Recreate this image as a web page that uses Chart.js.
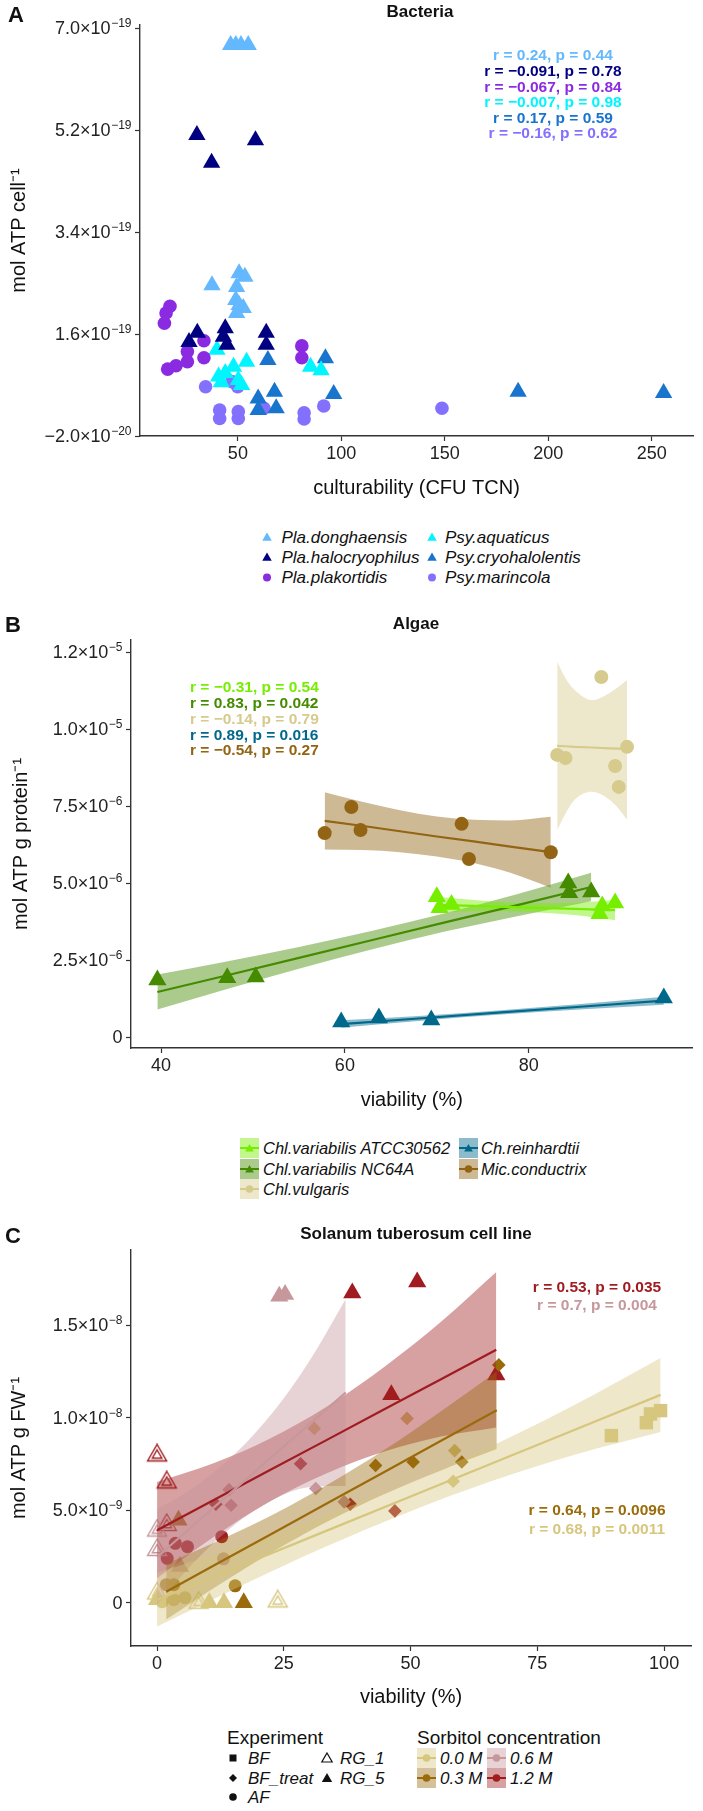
<!DOCTYPE html>
<html>
<head>
<meta charset="utf-8">
<script src="https://cdn.jsdelivr.net/npm/chart.js@4.4.1/dist/chart.umd.min.js"></script>
<style>
  body { margin: 0; background: #fff; width: 703px; height: 1811px; position: relative; overflow: hidden;
         font-family: "Liberation Sans", Arial, sans-serif; color: #111; }
  canvas { position: absolute; left: 0; }
  .t { position: absolute; white-space: nowrap; line-height: 1; }
  .c { transform: translate(-50%, -50%); }
  .l { transform: translate(0, -50%); }
  .r { transform: translate(-100%, -50%); }
  .stat { font-weight: bold; font-size: 15.5px; }
  .leg { font-style: italic; font-size: 17px; }
  .sup { font-size: 12px; position: relative; top: -7px; margin-left: 0.5px; }
  svg { position: absolute; }
</style>
</head>
<body>
<canvas id="chartA"></canvas>
<canvas id="chartB"></canvas>
<canvas id="chartC"></canvas>
<script>
const FONT = '"Liberation Sans", Arial, sans-serif';

// ---------- Panel A: Bacteria (y in 1e-19 mol ATP per cell) ----------
const plaDonghaensis = [[46.5,6.70],[49,6.70],[51.5,6.70],[55,6.70],[37.5,2.46],[50.6,2.67],[53.4,2.61],
  [49.4,2.43],[49,2.20],[50.6,2.11],[52.6,2.06],[49.4,1.97]];
const plaHalocryophilus = [[30.2,5.11],[58.5,5.02],[37.3,4.62],[26.4,1.46],[30.4,1.62],[43.9,1.70],[43,1.55],
  [44.7,1.41],[63.7,1.62],[63.7,1.41]];
const plaPlakortidis = [[17.2,2.09],[15.3,1.97],[14.5,1.79],[33.6,1.48],[25.6,1.29],[33.6,1.18],[16.1,0.98],
  [20.1,1.04],[25.6,1.11],[80.9,1.39],[80.9,1.18]];
const psyAquaticus = [[39.9,1.32],[40.7,0.85],[43.9,0.91],[47.9,1.02],[50.2,0.79],[54.2,1.11],[51.8,0.70],
  [85.1,1.02],[90.2,0.96],[42,0.75]];
const psyCryohalolentis = [[64.5,1.14],[92.3,1.17],[67.7,0.58],[59.8,0.46],[96.3,0.54],[59.8,0.26],[68.5,0.29],
  [185.4,0.58],[255.7,0.56]];
const psyMarincola = [[34.4,0.67],[47.1,0.76],[49.9,0.67],[62.6,0.29],[41.2,0.26],[41.2,0.11],[50.2,0.23],
  [50.2,0.11],[82,0.21],[82,0.10],[91.5,0.33],[148.6,0.29]];
const bacteriaNames = ['Pla.donghaensis','Pla.halocryophilus','Pla.plakortidis','Psy.aquaticus','Psy.cryohalolentis','Psy.marincola'];
const bacteriaColors = ['#63B8FF','#000080','#8A2BE2','#00F5FF','#1874CD','#8470FF'];
const bacteriaShapes = ['triangle','triangle','circle','triangle','triangle','circle'];
const bacteriaStats = ['r = 0.24, p = 0.44','r = −0.091, p = 0.78','r = −0.067, p = 0.84',
  'r = −0.007, p = 0.98','r = 0.17, p = 0.59','r = −0.16, p = 0.62'];
const xTicksA = [50,100,150,200,250];
const yTicksA = [-0.2,1.6,3.4,5.2,7.0];
const yTickLabelsA = ['−2.0×10^−20','1.6×10^−19','3.4×10^−19','5.2×10^−19','7.0×10^−19'];

// ---------- Panel B: Algae (y in 1e-6 mol ATP per g protein) ----------
const chlATCC = [[70,4.55],[70.3,4.2],[71.6,4.3],[87.7,4.0],[88,4.25],[89.4,4.35]];
const chlNC64A = [[39.6,1.85],[47.2,1.92],[50.3,1.95],[84.3,5.0],[84.4,4.68],[86.8,4.71]];
const chlVulgaris = [[87.9,11.69],[83.1,9.16],[84.0,9.06],[90.7,9.42],[89.4,8.8],[89.8,8.12]];
const chReinhardtii = [[59.6,0.49],[63.7,0.62],[69.4,0.55],[94.7,1.27]];
const micConductrix = [[57.8,6.62],[60.7,7.47],[61.7,6.72],[72.7,6.92],[73.5,5.78],[82.4,6.0]];
// fitted lines and confidence bands
const atccFitX = [70,75,80,85,89.4];
const atccFit = [4.29,4.25,4.20,4.16,4.12];
const atccHi = [4.55,4.42,4.34,4.36,4.45];
const atccLo = [4.03,4.08,4.06,3.96,3.79];
const nc64aFitX = [39.6,47,55,63,71,79,86.8];
const nc64aFit = [1.46,1.99,2.57,3.15,3.73,4.30,4.87];
const nc64aHi = [2.03,2.44,2.92,3.45,4.03,4.66,5.33];
const nc64aLo = [0.89,1.54,2.22,2.85,3.43,3.94,4.41];
const vulgarisFitX = [83.1,84.0,85.0,86.9,88.8,89.8,90.7];
const vulgarisFit = [9.45,9.44,9.42,9.40,9.37,9.36,9.35];
const vulgarisHi = [12.18,11.65,11.27,10.94,11.17,11.38,11.59];
const vulgarisLo = [6.72,7.25,7.70,7.96,7.70,7.40,7.05];
const reinhardtiiFitX = [59.6,68,77,86,94.7];
const reinhardtiiFit = [0.42,0.60,0.80,0.99,1.18];
const reinhardtiiHi = [0.54,0.68,0.87,1.08,1.31];
const reinhardtiiLo = [0.30,0.52,0.73,0.90,1.05];
const micFitX = [57.8,62,66,70,74,78,82.4];
const micFit = [7.02,6.85,6.68,6.51,6.35,6.18,6.00];
const micHi = [7.95,7.63,7.36,7.16,7.05,7.03,7.15];
const micLo = [6.09,6.07,6.00,5.86,5.65,5.33,4.85];
const algaeNames = ['Chl.variabilis ATCC30562','Chl.variabilis NC64A','Chl.vulgaris','Ch.reinhardtii','Mic.conductrix'];
const algaeColors = ['#76EE00','#458B00','#D6CB8C','#00688B','#936414'];
const algaeShapes = ['triangle','triangle','circle','triangle','circle'];
const algaeStats = ['r = −0.31, p = 0.54','r = 0.83, p = 0.042','r = −0.14, p = 0.79','r = 0.89, p = 0.016','r = −0.54, p = 0.27'];
const xTicksB = [40,60,80];
const yTicksB = [0,2.5,5,7.5,10,12.5];
const yTickLabelsB = ['0','2.5×10^−6','5.0×10^−6','7.5×10^−6','1.0×10^−5','1.2×10^−5'];

// ---------- Panel C: Solanum tuberosum (y in 1e-9 mol ATP per g FW) ----------
const m12RG5 = [[38.5,16.74],[51.3,17.33],[46.2,11.24],[66.9,12.31]];
const m12BFtreat = [[28.3,7.51],[38.1,5.32],[46.9,4.96],[11.6,5.32]];
const m12AF = [[3.6,3.21],[6.0,3.03],[2.0,2.40],[12.75,3.57]];
const m12RG1 = [[0,7.96],[1.9,6.5],[1.9,4.2]];
const m06RG5 = [[24.1,16.56],[25.25,16.65],[4.5,1.95]];
const m06BFtreat = [[31.3,6.17],[36.9,5.45],[14.2,6.11],[14.6,5.27]];
const m06AF = [[13.1,2.37]];
const m06RG1 = [[0,3.9],[0,2.85]];
const m03RG5 = [[4.23,4.46],[17.1,0]];
const m03BFtreat = [[43.1,7.42],[50.5,7.60],[60.1,7.60],[67.4,12.85]];
const m03AF = [[1.8,0.97],[3.3,0.97],[15.4,0.91]];
const m00BF = [[89.6,9.03],[96.5,9.73],[97.3,10.2],[99.3,10.38]];
const m00BFtreat = [[31.0,9.42],[49.3,9.96],[58.7,8.22],[58.4,6.56]];
const m00AF = [[3.3,0.16],[5.5,0.27],[1.0,0.05]];
const m00RG5 = [[0,0.16],[10.3,0],[13.2,0]];
const m00RG1 = [[8.2,0],[23.8,0.07],[0,0.5]];
const m12FitX = [0,11,22,33.5,45,56,66.9];
const m12Fit = [3.92,5.52,7.13,8.80,10.48,12.08,13.67];
const m12Hi = [6.52,7.52,8.83,10.60,12.78,15.18,17.87];
const m12Lo = [1.32,3.52,5.43,7.00,8.18,8.98,9.47];
const m06FitX = [0,6,12,18,25,31,37.2];
const m06Fit = [2.47,3.90,5.34,6.77,8.45,9.88,11.36];
const m06Hi = [5.07,6.00,7.24,8.77,11.05,13.48,16.41];
const m06Lo = [-0.13,1.80,3.44,4.77,5.85,6.28,6.31];
const m03FitX = [1.8,12,23,34,45,56,67];
const m03Fit = [0.59,2.13,3.78,5.44,7.09,8.75,10.40];
const m03Hi = [2.09,3.33,4.78,6.44,8.29,10.35,12.50];
const m03Lo = [-0.91,0.93,2.78,4.44,5.89,7.15,8.30];
const m00FitX = [0,16.5,33,50,66,82.5,99.3];
const m00Fit = [0.16,2.0,3.84,5.74,7.52,9.36,11.23];
const m00Hi = [1.61,3.10,4.69,6.54,8.47,10.71,13.23];
const m00Lo = [-1.29,0.90,2.99,4.94,6.57,8.01,9.23];
const sorbitolNames = ['0.0 M','0.3 M','0.6 M','1.2 M'];
const sorbitolColors = ['#D6C67E','#9B6B0B','#C6979B','#A01C20'];
const experimentNames = ['BF','BF_treat','AF','RG_1','RG_5'];
const experimentShapes = ['rect','rectRot','circle','open','triangle'];
const solanumStats = ['r = 0.53, p = 0.035','r = 0.7, p = 0.004','r = 0.64, p = 0.0096','r = 0.68, p = 0.0011'];
const solanumStatColors = ['#A01C20','#C6979B','#9B6B0B','#D6C67E'];
const xTicksC = [0,25,50,75,100];
const yTicksC = [0,5,10,15];
const yTickLabelsC = ['0','5.0×10^−9','1.0×10^−8','1.5×10^−8'];

// ---------- helpers ----------
function rgba(hex, a) {
  const n = parseInt(hex.slice(1), 16);
  return `rgba(${n >> 16},${(n >> 8) & 255},${n & 255},${a})`;
}
function pts(arr) { return arr.map(p => ({ x: p[0], y: p[1] })); }
function xy(xs, ys) { return xs.map((x, i) => ({ x: x, y: ys[i] })); }

const openTriCache = {};
function openTriangle(color) {
  if (openTriCache[color]) return openTriCache[color];
  const c = document.createElement('canvas');
  c.width = 24; c.height = 24;
  const g = c.getContext('2d');
  g.strokeStyle = color; g.lineWidth = 1.4;
  [11, 5.5].forEach(r => {
    g.beginPath();
    g.moveTo(12, 12 - r);
    g.lineTo(12 + r * 0.866, 12 + r / 2);
    g.lineTo(12 - r * 0.866, 12 + r / 2);
    g.closePath();
    g.stroke();
  });
  openTriCache[color] = c;
  return c;
}

function pointSet(arr, color, shape, radius, order) {
  return {
    type: 'scatter', data: pts(arr), order: order,
    pointStyle: shape === 'open' ? openTriangle(color) : shape,
    pointRadius: radius, backgroundColor: color, borderColor: color, borderWidth: 0
  };
}
function fitLine(xs, ys, color, order) {
  return { type: 'line', data: xy(xs, ys), showLine: true, borderColor: color, borderWidth: 2.2,
    pointRadius: 0, fill: false, tension: 0, order: order };
}
function band(xs, lo, hi, color, alpha, order) {
  return [
    { type: 'line', data: xy(xs, lo), showLine: true, borderColor: 'rgba(0,0,0,0)', borderWidth: 0.01,
      pointRadius: 0, fill: false, cubicInterpolationMode: 'monotone', order: order },
    { type: 'line', data: xy(xs, hi), showLine: true, borderColor: 'rgba(0,0,0,0)', borderWidth: 0.01,
      pointRadius: 0, fill: '-1', backgroundColor: rgba(color, alpha), cubicInterpolationMode: 'monotone', order: order }
  ];
}

function addText(txt, x, y, cls, style) {
  const d = document.createElement('div');
  d.className = 't ' + cls;
  d.textContent = txt;
  d.style.left = x + 'px'; d.style.top = y + 'px';
  Object.assign(d.style, style || {});
  document.body.appendChild(d);
  return d;
}

function makePanel(id, o) {
  const H = o.xTitleY + 16 - o.canvasTop;
  const cv = document.getElementById(id);
  cv.width = 703; cv.height = H;
  cv.style.top = o.canvasTop + 'px';
  cv.style.width = '703px'; cv.style.height = H + 'px';
  const tickFont = { size: 18, family: FONT };
  const titleFont = { size: 20, family: FONT };
  const grid = { display: true, drawOnChartArea: false, drawTicks: true, tickLength: 5, tickColor: '#333', tickWidth: 1.2 };
  const border = { display: true, color: '#333', width: 1.4 };
  const chart = new Chart(cv, {
    type: 'scatter',
    data: { datasets: o.datasets },
    options: {
      responsive: false, animation: false, devicePixelRatio: 1, events: [],
      layout: { padding: { top: o.plotTop - o.canvasTop, right: 703 - o.plotRight, left: 0, bottom: 0 } },
      plugins: { legend: { display: false }, tooltip: { enabled: false } },
      scales: {
        x: {
          type: 'linear', min: o.xMin, max: o.xMax,
          afterBuildTicks: s => { s.ticks = o.xTicks.map(v => ({ value: v })); },
          afterFit: s => { s.height = H - (o.plotBottom - o.canvasTop); },
          ticks: { font: tickFont, color: '#222', padding: 2, maxRotation: 0, autoSkip: false,
                   callback: (v, i) => String(o.xTicks[i]) },
          grid: grid, border: border,
          title: { display: true, text: o.xTitle, font: titleFont, color: '#111', padding: { top: 0, bottom: 4 } }
        },
        y: {
          type: 'linear', min: o.yMin, max: o.yMax,
          afterBuildTicks: s => { s.ticks = o.yTicks.map(v => ({ value: v })); },
          afterFit: s => { s.width = o.plotLeft; },
          // labels are written as HTML below so the powers of ten get real superscripts
          ticks: { font: tickFont, color: '#222', padding: 3, autoSkip: false, callback: () => '' },
          grid: grid, border: border,
          title: { display: true, text: o.yTitle, font: titleFont, color: '#111', padding: { top: o.yTitlePad, bottom: 0 } }
        }
      }
    }
  });
  // y tick labels placed at the library's own tick pixels
  const ys = chart.scales.y;
  o.yTicks.forEach((v, i) => {
    const parts = o.yTickLabels[i].split('^');
    const d = addText(parts[0], o.plotLeft - 8.5, o.canvasTop + ys.getPixelForValue(v), 'r',
      { fontSize: '18px', color: '#222' });
    if (parts[1]) {
      const s = document.createElement('span');
      s.className = 'sup';
      s.textContent = parts[1];
      d.appendChild(s);
    }
  });
  return chart;
}

function shapeSvg(shape, color, cx, cy, r) {
  if (shape === 'triangle') {
    return `<polygon points="${cx},${cy - r} ${cx + r * 0.866},${cy + r / 2} ${cx - r * 0.866},${cy + r / 2}" fill="${color}"/>`;
  }
  if (shape === 'open') {
    return `<polygon points="${cx},${cy - r} ${cx + r * 0.866},${cy + r / 2} ${cx - r * 0.866},${cy + r / 2}" fill="none" stroke="${color}" stroke-width="1.2"/>`;
  }
  if (shape === 'rect') return `<rect x="${cx - r * 0.7}" y="${cy - r * 0.7}" width="${r * 1.4}" height="${r * 1.4}" fill="${color}"/>`;
  if (shape === 'rectRot') return `<polygon points="${cx},${cy - r} ${cx + r},${cy} ${cx},${cy + r} ${cx - r},${cy}" fill="${color}"/>`;
  return `<circle cx="${cx}" cy="${cy}" r="${r}" fill="${color}"/>`;
}
function addSvg(x, y, w, h, inner) {
  const s = document.createElementNS('http://www.w3.org/2000/svg', 'svg');
  s.setAttribute('width', w); s.setAttribute('height', h);
  s.style.left = x + 'px'; s.style.top = y + 'px';
  s.innerHTML = inner;
  document.body.appendChild(s);
}

// ---------- Panel A ----------
const bacteriaData = [plaDonghaensis, plaHalocryophilus, plaPlakortidis, psyAquaticus, psyCryohalolentis, psyMarincola];
makePanel('chartA', {
  canvasTop: 0, plotTop: 25, plotBottom: 436, plotLeft: 140, plotRight: 701, xTitleY: 488,
  xMin: 2.71, xMax: 269.9, yMin: -0.2, yMax: 7.053,
  xTicks: xTicksA, yTicks: yTicksA, yTickLabels: yTickLabelsA, yTitlePad: 7,
  xTitle: 'culturability (CFU TCN)', yTitle: 'mol ATP cell⁻¹',
  datasets: bacteriaData.map((d, i) => pointSet(d, bacteriaColors[i], bacteriaShapes[i],
    bacteriaShapes[i] === 'triangle' ? 10 : 6.8, 1))
});
addText('A', 16, 15, 'c', { font: 'bold 22px ' + FONT });
addText('Bacteria', 420, 12, 'c', { font: 'bold 17px ' + FONT });
bacteriaStats.forEach((s, i) => addText(s, 553, [55, 71, 87, 102, 118, 133][i], 'c stat', { color: bacteriaColors[i] }));
bacteriaNames.forEach((n, i) => {
  const col = Math.floor(i / 3), row = i % 3;
  const y = [536.7, 557.3, 577.3][row];
  const sx = [266.5, 431.5][col];
  addSvg(sx - 7, y - 7, 14, 14, shapeSvg(bacteriaShapes[i], bacteriaColors[i], 7, bacteriaShapes[i] === 'triangle' ? 8 : 7.5,
    bacteriaShapes[i] === 'triangle' ? 5.5 : 4));
  addText(n, [281.5, 445][col], y, 'l leg');
});

// ---------- Panel B ----------
const algaeData = [chlATCC, chlNC64A, chlVulgaris, chReinhardtii, micConductrix];
const algaeBands = [[atccFitX, atccLo, atccHi, atccFit], [nc64aFitX, nc64aLo, nc64aHi, nc64aFit],
  [vulgarisFitX, vulgarisLo, vulgarisHi, vulgarisFit], [reinhardtiiFitX, reinhardtiiLo, reinhardtiiHi, reinhardtiiFit],
  [micFitX, micLo, micHi, micFit]];
let dsB = [];
algaeBands.forEach((b, i) => { dsB = dsB.concat(band(b[0], b[1], b[2], algaeColors[i], 0.45, 3)); });
algaeBands.forEach((b, i) => { dsB.push(fitLine(b[0], b[3], algaeColors[i], 2)); });
algaeData.forEach((d, i) => { dsB.push(pointSet(d, algaeColors[i], algaeShapes[i], algaeShapes[i] === 'triangle' ? 10.5 : 7, 1)); });
makePanel('chartB', {
  canvasTop: 600, plotTop: 640, plotBottom: 1048, plotLeft: 131, plotRight: 701, xTitleY: 1100,
  xMin: 36.73, xMax: 97.82, yMin: -0.357, yMax: 12.89,
  xTicks: xTicksB, yTicks: yTicksB, yTickLabels: yTickLabelsB, yTitlePad: 9,
  xTitle: 'viability (%)', yTitle: 'mol ATP g protein⁻¹',
  datasets: dsB
});
addText('B', 13, 625, 'c', { font: 'bold 22px ' + FONT });
addText('Algae', 416, 624, 'c', { font: 'bold 17px ' + FONT });
algaeStats.forEach((s, i) => addText(s, 190, [687, 703, 718.7, 734.7, 750][i], 'l stat', { color: algaeColors[i] }));
algaeNames.forEach((n, i) => {
  const col = i < 3 ? 0 : 1, row = i < 3 ? i : i - 3;
  const y = [1148, 1168.5, 1189][row];
  const kx = [240, 459][col];
  const c = algaeColors[i];
  addSvg(kx, y - 10, 19, 20,
    `<rect x="0" y="0" width="19" height="20" fill="${rgba(c, 0.45)}"/>` +
    `<line x1="0" y1="10" x2="19" y2="10" stroke="${c}" stroke-width="2"/>` +
    shapeSvg(algaeShapes[i], c, 9.5, algaeShapes[i] === 'triangle' ? 11 : 10, algaeShapes[i] === 'triangle' ? 5 : 3.8));
  addText(n, [263, 481][col], y, 'l leg', { fontSize: '16.5px' });
});

// ---------- Panel C ----------
const sorbitolBands = [[m00FitX, m00Lo, m00Hi, m00Fit], [m03FitX, m03Lo, m03Hi, m03Fit],
  [m06FitX, m06Lo, m06Hi, m06Fit], [m12FitX, m12Lo, m12Hi, m12Fit]];
const solanumPoints = [
  [m00BF, 0, 'rect'], [m00BFtreat, 0, 'rectRot'], [m00AF, 0, 'circle'], [m00RG5, 0, 'triangle'], [m00RG1, 0, 'open'],
  [m03BFtreat, 1, 'rectRot'], [m03AF, 1, 'circle'], [m03RG5, 1, 'triangle'],
  [m06BFtreat, 2, 'rectRot'], [m06AF, 2, 'circle'], [m06RG5, 2, 'triangle'], [m06RG1, 2, 'open'],
  [m12BFtreat, 3, 'rectRot'], [m12AF, 3, 'circle'], [m12RG5, 3, 'triangle'], [m12RG1, 3, 'open']];
const markerSize = { rect: 9.5, rectRot: 6.8, circle: 6.5, triangle: 10.5, open: 12 };
let dsC = [];
solanumPoints.forEach(p => { dsC.push(pointSet(p[0], sorbitolColors[p[1]], p[2], markerSize[p[2]], 3)); });
sorbitolBands.forEach((b, i) => { dsC = dsC.concat(band(b[0], b[1], b[2], sorbitolColors[i], 0.42, 2)); });
sorbitolBands.forEach((b, i) => { dsC.push(fitLine(b[0], b[3], sorbitolColors[i], 1)); });
makePanel('chartC', {
  canvasTop: 1220, plotTop: 1250, plotBottom: 1646, plotLeft: 131, plotRight: 701, xTitleY: 1697,
  xMin: -5.14, xMax: 105.3, yMin: -2.34, yMax: 19.06,
  xTicks: xTicksC, yTicks: yTicksC, yTickLabels: yTickLabelsC, yTitlePad: 7.5,
  xTitle: 'viability (%)', yTitle: 'mol ATP g FW⁻¹',
  datasets: dsC
});
addText('C', 13, 1236, 'c', { font: 'bold 22px ' + FONT });
addText('Solanum tuberosum cell line', 416, 1234, 'c', { font: 'bold 17px ' + FONT });
solanumStats.forEach((s, i) => addText(s, 597, [1287, 1305, 1510, 1528.5][i], 'c stat', { color: solanumStatColors[i] }));

addText('Experiment', 227, 1737, 'l', { fontSize: '19px' });
addText('Sorbitol concentration', 417, 1737, 'l', { fontSize: '19px' });
experimentNames.forEach((n, i) => {
  const col = i < 3 ? 0 : 1, row = i < 3 ? i : i - 3;
  const y = [1758, 1778, 1797][row];
  const sx = [233, 327][col];
  const r = { rect: 5, rectRot: 4, circle: 3.8, open: 6, triangle: 6 }[experimentShapes[i]];
  const cy = (experimentShapes[i] === 'triangle' || experimentShapes[i] === 'open') ? 8 : 7;
  addSvg(sx - 7, y - 7, 14, 14, shapeSvg(experimentShapes[i], '#111', 7, cy, r));
  addText(n, [248, 340][col], y, 'l leg');
});
sorbitolNames.forEach((n, i) => {
  const col = i < 2 ? 0 : 1, row = i % 2;
  const y = [1758, 1778][row];
  const kx = [417, 487][col];
  const c = sorbitolColors[i];
  addSvg(kx, y - 10, 19, 20,
    `<rect x="0" y="0" width="19" height="20" fill="${rgba(c, 0.42)}"/>` +
    `<line x1="0" y1="10" x2="19" y2="10" stroke="${c}" stroke-width="2"/>` +
    `<circle cx="9.5" cy="10" r="3.8" fill="${c}"/>`);
  addText(n, [440, 510][col], y, 'l leg');
});
</script>
</body>
</html>
